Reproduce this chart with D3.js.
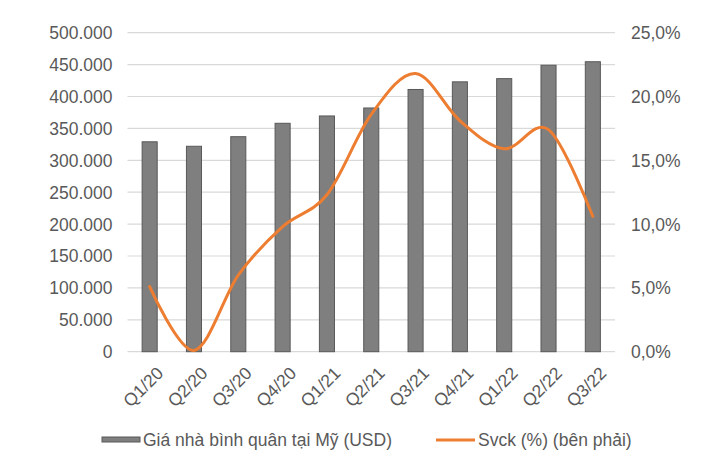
<!DOCTYPE html>
<html>
<head>
<meta charset="utf-8">
<script src="https://cdn.jsdelivr.net/npm/d3@7"></script>
<style>
  html, body { margin: 0; padding: 0; background: #fff; }
  text { font-family: "Liberation Sans", Arial, sans-serif; fill: #595959; }
</style>
</head>
<body>
<svg id="chart" width="709" height="452"></svg>
<script>
const categories = ["Q1/20","Q2/20","Q3/20","Q4/20","Q1/21","Q2/21","Q3/21","Q4/21","Q1/22","Q2/22","Q3/22"];
const prices = [329000, 322000, 337000, 358000, 369500, 382000, 411000, 423000, 428000, 449000, 454500];
const yoy = [5.1, 0.1, 6.0, 9.8, 12.3, 18.6, 21.8, 18.1, 15.9, 17.4, 10.6];
const leftTicks = [0, 50000, 100000, 150000, 200000, 250000, 300000, 350000, 400000, 450000, 500000];
const rightTicks = [0, 5, 10, 15, 20, 25];
const legendLabels = ["Giá nhà bình quân tại Mỹ (USD)", "Svck (%) (bên phải)"];

const svg = d3.select("#chart");
const plotL = 127.5, plotR = 615, plotT = 32.7, plotB = 351.7;
const fs = "17.5px";

const loc = d3.formatLocale({decimal: ",", thousands: ".", grouping: [3], currency: ["", ""]});
const fmtL = loc.format(",.0f");
const fmtR = loc.format(".1f");

const x = d3.scaleBand().domain(categories).range([plotL, plotR]).paddingInner(0.66).paddingOuter(0.33);
const yL = d3.scaleLinear().domain([0, 500000]).range([plotB, plotT]);
const yR = d3.scaleLinear().domain([0, 25]).range([plotB, plotT]);

// gridlines
svg.append("g").selectAll("line").data(leftTicks).join("line")
  .attr("x1", plotL).attr("x2", plotR)
  .attr("y1", d => yL(d)).attr("y2", d => yL(d))
  .attr("stroke", "#d9d9d9").attr("stroke-width", 1.2);

// left axis
const gL = svg.append("g").attr("transform", `translate(${plotL - 15},0)`)
  .call(d3.axisLeft(yL).tickValues(leftTicks).tickFormat(fmtL).tickSize(0).tickPadding(0));
gL.select(".domain").remove();
gL.selectAll("text").style("font-size", fs).attr("fill", "#595959").attr("dy", "0.34em")
  .style("font-family", "'Liberation Sans', Arial, sans-serif");

// right axis
const gR = svg.append("g").attr("transform", `translate(${plotR + 16},0)`)
  .call(d3.axisRight(yR).tickValues(rightTicks).tickFormat(d => fmtR(d) + "%").tickSize(0).tickPadding(0));
gR.select(".domain").remove();
gR.selectAll("text").style("font-size", fs).attr("fill", "#595959").attr("dy", "0.34em")
  .style("font-family", "'Liberation Sans', Arial, sans-serif");

// bars
svg.append("g").selectAll("rect").data(categories).join("rect")
  .attr("x", d => x(d))
  .attr("width", x.bandwidth())
  .attr("y", (d, i) => yL(prices[i]))
  .attr("height", (d, i) => yL(0) - yL(prices[i]))
  .attr("fill", "#7f7f7f")
  .attr("stroke", "#595959")
  .attr("stroke-width", 1);

// line
const line = d3.line()
  .x((d, i) => x(categories[i]) + x.bandwidth() / 2)
  .y(d => yR(d))
  .curve(d3.curveCardinal.tension(0));
svg.append("path").datum(yoy)
  .attr("d", line)
  .attr("fill", "none")
  .attr("stroke", "#ED7D31")
  .attr("stroke-width", 3)
  .attr("stroke-linecap", "round")
  .attr("stroke-linejoin", "round");

// x labels
svg.append("g").selectAll("text").data(categories).join("text")
  .attr("transform", d => `translate(${x(d) + x.bandwidth() / 2 + 6},${plotB + 14}) rotate(-45)`)
  .attr("text-anchor", "end")
  .attr("dy", "0.7em")
  .style("font-size", fs)
  .text(d => d);

// legend
const lg = svg.append("g");
lg.append("rect").attr("x", 102).attr("y", 437).attr("width", 38).attr("height", 5)
  .attr("fill", "#7f7f7f").attr("stroke", "#595959").attr("stroke-width", 1);
lg.append("text").attr("x", 143).attr("y", 445.5).style("font-size", fs).text(legendLabels[0]);
lg.append("line").attr("x1", 436).attr("x2", 475).attr("y1", 440).attr("y2", 440)
  .attr("stroke", "#ED7D31").attr("stroke-width", 3);
lg.append("text").attr("x", 478).attr("y", 445.5).style("font-size", fs).text(legendLabels[1]);
</script>
</body>
</html>
